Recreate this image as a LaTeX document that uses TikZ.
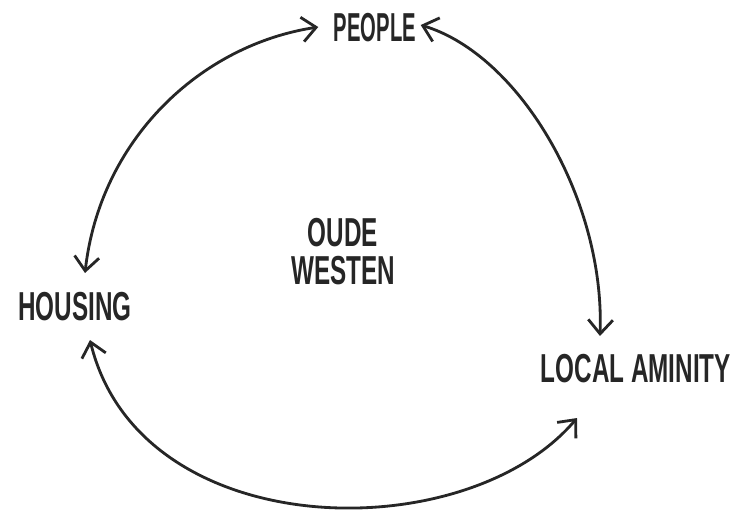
\documentclass[tikz,border=0pt]{standalone}
\usepackage{fontspec}
\setmainfont{Liberation Sans}[FakeStretch=0.6]
\newfontfamily\tightfont{Liberation Sans}[FakeStretch=0.5]
\usetikzlibrary{arrows.meta,calc}
\definecolor{ink}{RGB}{38,38,38}
\tikzset{
  word/.style={font=\fontsize{11.5}{10.8}\selectfont\bfseries, text=ink,
               inner sep=0pt, align=center},
  link/.style={{Straight Barb[length=4pt,width=7pt]}-{Straight Barb[length=4pt,width=7pt]},
               line width=0.8pt, draw=ink},
}
\begin{document}
\begin{tikzpicture}[x=0.01cm, y=-0.01cm]
  \useasboundingbox (0,0) rectangle (744,514);

  % the three actors and the place
  \node[word, font=\fontsize{11.5}{10.8}\selectfont\bfseries\tightfont] (people) at (375,28) {PEOPLE};
  \node[word] (housing) at (75,307) {HOUSING};
  \node[word] (aminity) at (636,369) {LOCAL AMINITY};
  \node[word] (oude) at (343,252) {OUDE\\WESTEN};

  % loops between them
  \draw[link] ($(housing.north)+(10,-19)$) .. controls (100,140) and (200,45) ..
    ($(people.west)+(-15,-1)$);
  \draw[link] ($(people.east)+(4,-3)$) .. controls (520,55) and (605,200) ..
    ($(aminity.north)+(-36,-18)$);
  \draw[link] ($(housing.south)+(15,18)$) .. controls (140,545) and (465,550) ..
    ($(aminity.south)+(-59,34)$);
\end{tikzpicture}
\end{document}
